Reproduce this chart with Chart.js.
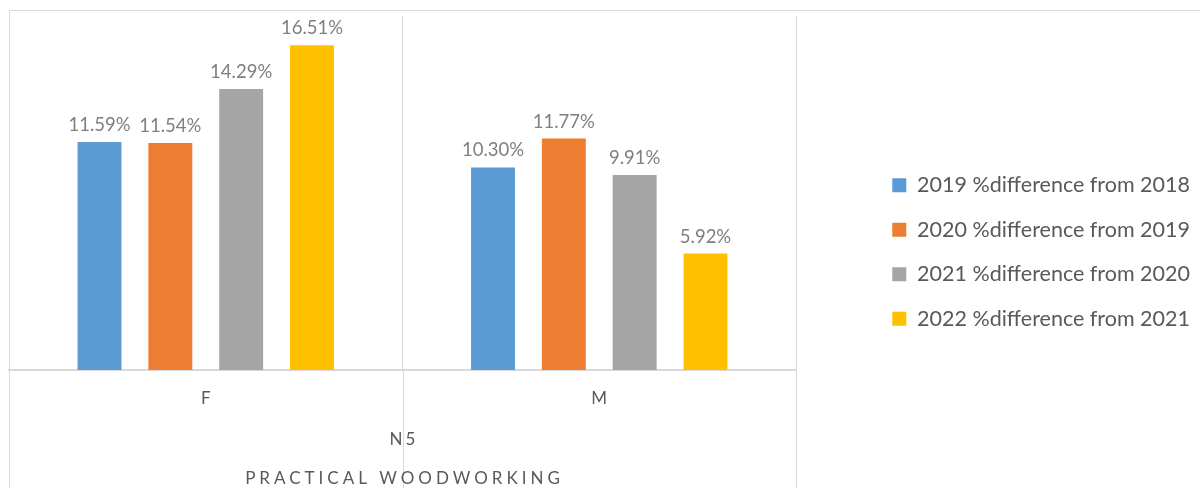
<!DOCTYPE html>
<html>
<head>
<meta charset="utf-8">
<title>Practical Woodworking N5</title>
<script src="https://cdn.jsdelivr.net/npm/chart.js@4"></script>
<style>
  html, body { margin: 0; padding: 0; background: #fff; }
  .Charts { width: 1200px; height: 488px; position: relative; }
</style>
</head>
<body>
<div class="Charts"><canvas id="myChart"></canvas></div>
<script>
// categories and series
const categories = ['F', 'M'];
const seriesNames = [
  '2019 %difference from 2018',
  '2020 %difference from 2019',
  '2021 %difference from 2020',
  '2022 %difference from 2021'
];
const values2019 = [11.59, 10.30];
const values2020 = [11.54, 11.77];
const values2021 = [14.29, 9.91];
const values2022 = [16.51, 5.92];
const groupLabel = 'N5';
const subjectLabel = 'PRACTICAL WOODWORKING';

const colors = ['#5b9bd5', '#ed7d31', '#a5a5a5', '#ffc000'];
const FONT = 'Lato, "Open Sans", sans-serif';
const PLOT_RIGHT = 796;

// excel-like frame, separators through the label rows, and the two outer category levels
const excelFrame = {
  id: 'excelFrame',
  beforeDraw(chart) {
    const ctx = chart.ctx;
    ctx.save();
    ctx.strokeStyle = '#d9d9d9';
    ctx.lineWidth = 1;
    ctx.strokeRect(9.5, 10.5, chart.width, chart.height);
    ctx.restore();
  },
  afterDraw(chart) {
    const ctx = chart.ctx;
    const x = chart.scales.x;
    const area = chart.chartArea;
    const edges = [x.left];
    for (let i = 0; i < categories.length - 1; i++) {
      edges.push((x.getPixelForValue(i) + x.getPixelForValue(i + 1)) / 2);
    }
    edges.push(x.right);
    ctx.save();
    ctx.strokeStyle = '#d9d9d9';
    ctx.lineWidth = 1;
    edges.forEach(px => {
      ctx.beginPath();
      ctx.moveTo(Math.round(px) + 0.5, area.bottom);
      ctx.lineTo(Math.round(px) + 0.5, chart.height);
      ctx.stroke();
    });
    const cx = (x.left + x.right) / 2;
    ctx.fillStyle = '#595959';
    ctx.textAlign = 'center';
    ctx.textBaseline = 'middle';
    ctx.font = '17px ' + FONT;
    ctx.letterSpacing = '3px';
    ctx.fillText(groupLabel, cx + 1.5, 440);
    ctx.letterSpacing = '4px';
    ctx.fillText(subjectLabel, cx + 2, 479);
    ctx.restore();
  }
};

// value labels above each bar
const barLabels = {
  id: 'barLabels',
  afterDatasetsDraw(chart) {
    const ctx = chart.ctx;
    ctx.save();
    ctx.fillStyle = '#7f7f7f';
    ctx.font = '18.5px ' + FONT;
    ctx.textAlign = 'center';
    ctx.textBaseline = 'alphabetic';
    chart.data.datasets.forEach((ds, di) => {
      chart.getDatasetMeta(di).data.forEach((bar, i) => {
        ctx.fillText(ds.data[i].toFixed(2) + '%', bar.x, bar.y - 11);
      });
    });
    ctx.restore();
  }
};

const ctx = document.getElementById('myChart').getContext('2d');
const woodworkChart = new Chart(ctx, {
  type: 'bar',
  data: {
    labels: categories,
    datasets: [values2019, values2020, values2021, values2022].map((vals, i) => ({
      label: seriesNames[i],
      data: vals,
      backgroundColor: colors[i],
      borderWidth: 0,
      categoryPercentage: 0.72,
      barPercentage: 0.62
    }))
  },
  options: {
    responsive: true,
    maintainAspectRatio: false,
    animation: false,
    layout: { padding: { left: 9, top: 16, right: 0, bottom: 0 } },
    plugins: {
      legend: {
        position: 'right',
        maxWidth: 334,
        labels: {
          boxWidth: 14,
          boxHeight: 14,
          padding: 23,
          color: '#595959',
          font: { family: FONT, size: 21.5 }
        }
      },
      title: { display: false },
      tooltip: { enabled: false }
    },
    scales: {
      x: {
        grid: { offset: true, color: '#d9d9d9', drawTicks: false },
        border: { color: '#d9d9d9', width: 2 },
        ticks: { color: '#595959', font: { family: FONT, size: 17 }, padding: 18 },
        afterFit(scale) { scale.height = 118; }
      },
      y: {
        position: 'right',
        min: 0,
        max: 18,
        grid: { display: false },
        border: { display: false },
        ticks: { display: false },
        // blank gap between plot area and legend
        afterFit(scale) {
          const c = scale.chart;
          scale.width = Math.max(0, c.width - PLOT_RIGHT - c.legend.width);
        }
      }
    }
  },
  plugins: [excelFrame, barLabels]
});
</script>
</body>
</html>
